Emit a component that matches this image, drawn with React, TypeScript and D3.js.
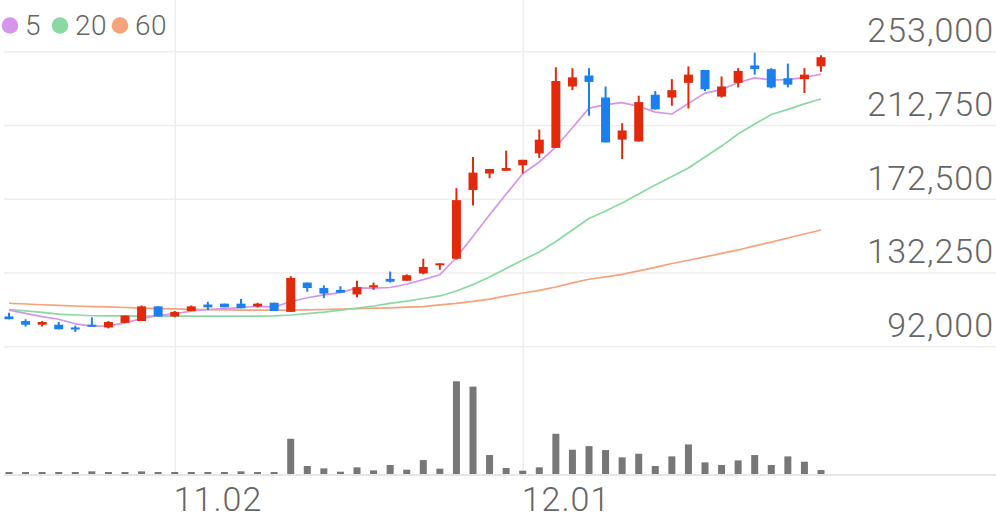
import React, { useEffect, useRef } from "react";
import * as d3 from "d3";

// trading days (MM.DD)
const dates = [
  "10.19", "10.20", "10.21", "10.22", "10.23", "10.26", "10.27", "10.28", "10.29", "10.30",
  "11.02", "11.03", "11.04", "11.05", "11.06", "11.09", "11.10", "11.11", "11.12", "11.13",
  "11.16", "11.17", "11.18", "11.19", "11.20", "11.23", "11.24", "11.25", "11.26", "11.27",
  "11.30", "12.01", "12.02", "12.03", "12.04", "12.07", "12.08", "12.09", "12.10", "12.11",
  "12.14", "12.15", "12.16", "12.17", "12.18", "12.21", "12.22", "12.23", "12.24", "12.28",
];

const open = [
  108500, 106000, 104000, 104000, 102500, 104000, 102500, 105000, 106000, 114000,
  108500, 111500, 115000, 115500, 115500, 114000, 116000, 111000, 127000, 124000,
  123000, 120500, 124500, 129000, 128000, 132000, 136500, 140000, 177500, 186500,
  188000, 191000, 197500, 200500, 234000, 240000, 228000, 205000, 204000, 229500,
  228000, 236000, 243000, 228500, 236000, 245500, 243500, 238500, 238000, 245000,
];
const high = [
  110500, 107000, 106000, 105500, 103500, 108000, 106000, 109000, 114500, 114000,
  111500, 114500, 116500, 115500, 118000, 116000, 116000, 130500, 127000, 125500,
  125000, 128000, 127000, 133000, 131500, 140000, 137500, 178500, 195500, 189000,
  199000, 194000, 210500, 244500, 244000, 244000, 234000, 214000, 229000, 231500,
  238000, 245000, 243000, 239500, 244000, 252500, 244000, 246500, 244000, 251000,
];
const low = [
  107000, 103000, 103000, 101500, 100000, 103000, 102000, 105000, 106000, 108500,
  108000, 111500, 112000, 113500, 113000, 113500, 111500, 111000, 122000, 118500,
  121500, 119000, 123000, 127000, 128000, 131500, 134000, 139500, 169000, 184000,
  188000, 186500, 195000, 200500, 232000, 218000, 203500, 194500, 204000, 221500,
  223500, 222000, 231500, 228000, 233500, 240500, 233000, 233500, 230500, 242000,
];
const close = [
  107000, 104000, 105500, 101500, 101500, 103000, 105500, 109000, 114000, 108500,
  111000, 114000, 113500, 113500, 113000, 115500, 111500, 129500, 124000, 121000,
  121500, 124500, 125500, 127500, 131000, 135500, 137500, 172000, 187000, 189000,
  189500, 194000, 205000, 237000, 239000, 236500, 203500, 210000, 225500, 221500,
  232000, 240500, 232500, 234000, 242500, 243500, 233500, 235000, 240500, 250000,
];
const volume = [
  24000, 36000, 24000, 36000, 36000, 96000, 36000, 24000, 96000, 48000,
  12000, 48000, 72000, 48000, 96000, 48000, 48000, 1272000, 288000, 204000,
  84000, 240000, 132000, 324000, 156000, 504000, 192000, 3348000, 3156000, 684000,
  216000, 120000, 240000, 1452000, 876000, 1008000, 864000, 600000, 732000, 288000,
  636000, 1068000, 420000, 324000, 492000, 684000, 324000, 636000, 444000, 144000,
];

// moving averages as drawn
const ma5 = [
  112000, 110200, 108400, 107000, 104500, 103200, 103400, 105000, 107300, 109000,
  110000, 111400, 112300, 112800, 113400, 114000, 113700, 116600, 118700, 120300,
  121500, 124100, 124000, 124300, 126100, 128600, 131300, 140700, 152300, 164000,
  175300, 186400, 192800, 201000, 211500, 222200, 224100, 225200, 223200, 220000,
  219000, 224800, 230400, 232300, 236200, 238700, 237600, 237800, 239000, 240700,
];
const ma20 = [
  112300, 111500, 110700, 109800, 109300, 108900, 108800, 108800, 108700, 108700,
  108700, 108700, 108700, 108700, 108700, 108700, 108800, 109300, 110100, 110900,
  112000, 113100, 114200, 115600, 116900, 118300, 119700, 122400, 125900, 130000,
  134700, 139300, 143700, 149400, 155700, 162000, 166100, 170400, 175300, 180300,
  184900, 189500, 195500, 201500, 208100, 213500, 218700, 221500, 224500, 227200,
];
const ma60 = [
  115700, 115300, 114900, 114600, 114200, 113900, 113700, 113400, 113100, 112800,
  112600, 112400, 112200, 112100, 112000, 112000, 112000, 112000, 112100, 112300,
  112500, 112700, 113000, 113200, 113600, 113900, 114800, 115600, 116700, 118000,
  119700, 121300, 122700, 124600, 126800, 128800, 130100, 131500, 133400, 135300,
  137400, 139200, 141000, 142900, 144800, 147000, 149100, 151300, 153500, 155700,
];

const priceTicks = [92000, 132250, 172500, 212750, 253000];
const dateTicks = ["11.02", "12.01"];
const legendLabels = ["5", "20", "60"];

const UP = "#e3290c";
const DOWN = "#1b7ff0";
const MA_COLORS = ["#d595ea", "#8ad9a2", "#f6a27b"];
const TEXT = "#666666";
const GRID = "#eeeeee";
const FONT = "Roboto, 'Noto Sans', sans-serif";

const Chart = () => {
  const ref = useRef<SVGSVGElement>(null);

  useEffect(() => {
    makeGraph();
  }, []);

  const makeGraph = () => {
    const width = 996;
    const svg = d3.select(ref.current);
    svg.selectAll("*").remove();

    const x = d3.scalePoint().domain(dates).range([9, 821]);
    const y = d3.scaleLinear().domain([92000, 253000]).range([346.7, 51.7]);
    const yVol = d3
      .scaleLinear()
      // @ts-ignore
      .domain([0, d3.max(volume)])
      .range([474, 381.3]);

    // grid
    svg
      .append("g")
      .selectAll("line")
      .data(priceTicks)
      .enter()
      .append("line")
      .attr("x1", 4)
      .attr("x2", width)
      .attr("y1", (d) => y(d))
      .attr("y2", (d) => y(d))
      .attr("stroke", GRID)
      .attr("stroke-width", 1.5);

    svg
      .append("g")
      .selectAll("line")
      .data(dateTicks)
      .enter()
      .append("line")
      // @ts-ignore
      .attr("x1", (d) => x(d) + 0.5)
      // @ts-ignore
      .attr("x2", (d) => x(d) + 0.5)
      .attr("y1", 0)
      .attr("y2", 474)
      .attr("stroke", GRID)
      .attr("stroke-width", 1.5);

    // price labels
    svg
      .append("g")
      .selectAll("text")
      .data(priceTicks)
      .enter()
      .append("text")
      .text((d) => d3.format(",")(d))
      .attr("x", 994)
      .attr("y", (d) => y(d) - 9.5)
      .attr("text-anchor", "end")
      .attr("font-family", FONT)
      .attr("font-weight", 300)
      .attr("font-size", "34px")
      .attr("letter-spacing", "1px")
      .attr("fill", TEXT);

    // moving averages
    const mas = [ma60, ma20, ma5];
    const colors = [MA_COLORS[2], MA_COLORS[1], MA_COLORS[0]];
    const line = d3
      .line<number>()
      // @ts-ignore
      .x((d, i) => x(dates[i]))
      .y((d) => y(d));
    mas.forEach((m, k) => {
      svg
        .append("path")
        .datum(m)
        .attr("fill", "none")
        .attr("stroke", colors[k])
        .attr("stroke-width", 1.7)
        .attr("stroke-linejoin", "round")
        // @ts-ignore
        .attr("d", line);
    });

    // candles
    const idx = d3.range(dates.length);
    const bodyW = 9;
    const candles = svg.append("g").selectAll("g").data(idx).enter().append("g");
    candles
      .append("line")
      // @ts-ignore
      .attr("x1", (i) => x(dates[i]))
      // @ts-ignore
      .attr("x2", (i) => x(dates[i]))
      .attr("y1", (i) => y(high[i]))
      .attr("y2", (i) => y(low[i]))
      .attr("stroke", (i) => (close[i] >= open[i] ? UP : DOWN))
      .attr("stroke-width", 2);
    candles
      .append("rect")
      // @ts-ignore
      .attr("x", (i) => x(dates[i]) - bodyW / 2)
      .attr("y", (i) => y(Math.max(open[i], close[i])))
      .attr("width", bodyW)
      .attr("height", (i) => Math.max(2, Math.abs(y(open[i]) - y(close[i]))))
      .attr("fill", (i) => (close[i] >= open[i] ? UP : DOWN));

    // volume
    svg
      .append("g")
      .selectAll("rect")
      .data(idx)
      .enter()
      .append("rect")
      // @ts-ignore
      .attr("x", (i) => x(dates[i]) - 3.5)
      .attr("y", (i) => Math.min(yVol(volume[i]), 472))
      .attr("width", 7)
      .attr("height", (i) => Math.max(2, 474 - yVol(volume[i])))
      .attr("fill", "#777777");

    svg
      .append("line")
      .attr("x1", 4)
      .attr("x2", width)
      .attr("y1", 475)
      .attr("y2", 475)
      .attr("stroke", "#e6e6e6")
      .attr("stroke-width", 2);

    // date labels
    svg
      .append("g")
      .selectAll("text")
      .data(dateTicks)
      .enter()
      .append("text")
      .text((d) => d)
      // @ts-ignore
      .attr("x", (d) => x(d) - 1)
      .attr("y", 511)
      .attr("font-family", FONT)
      .attr("font-weight", 300)
      .attr("font-size", "34px")
      .attr("letter-spacing", "1px")
      .attr("fill", TEXT);

    // legend
    const lx = [10, 60, 120];
    const lg = svg.append("g").selectAll("g").data(legendLabels).enter().append("g");
    lg.append("circle")
      .attr("cx", (d, i) => lx[i])
      .attr("cy", 25.5)
      .attr("r", 8.3)
      .attr("fill", (d, i) => MA_COLORS[i]);
    lg.append("text")
      .text((d) => d)
      .attr("x", (d, i) => lx[i] + 15)
      .attr("y", 35)
      .attr("font-family", FONT)
      .attr("font-weight", 300)
      .attr("font-size", "28px")
      .attr("letter-spacing", "0.5px")
      .attr("fill", TEXT);
  };

  return (
    <svg
      ref={ref}
      width={996}
      height={519}
      style={{ position: "absolute", left: 0, top: 0, display: "block", background: "#fff" }}
    />
  );
};

export default function App() {
  return <Chart />;
}
